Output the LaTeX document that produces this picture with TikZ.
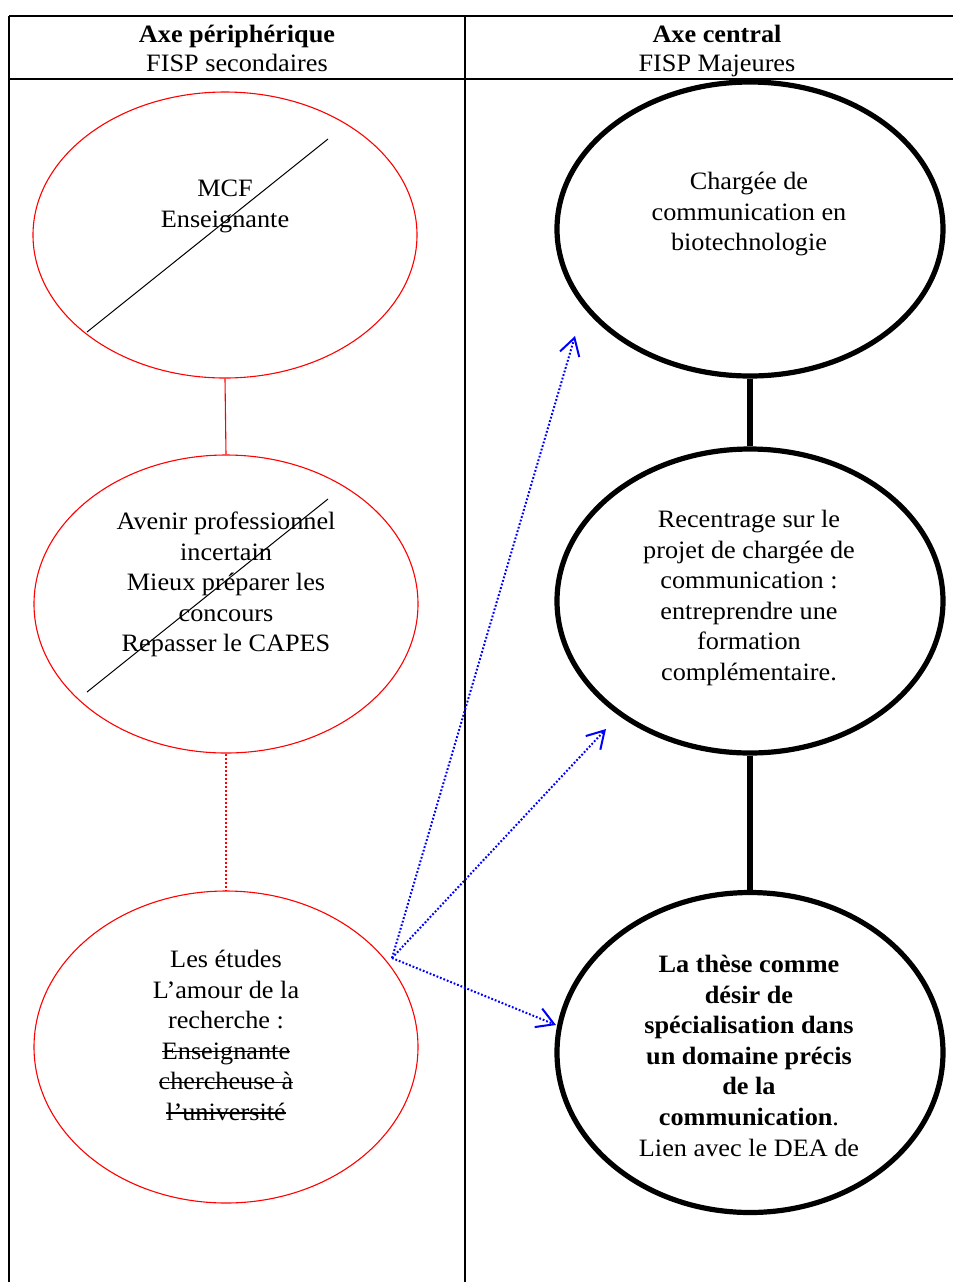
\documentclass[tikz,border=0pt]{standalone}
\usepackage{fontspec}
\setmainfont{Liberation Serif}[FakeStretch=1.05]
\usetikzlibrary{shapes.geometric,arrows.meta}
\newcommand\barre[1]{\setbox0\hbox{#1}\rlap{\rule[0.27em]{\wd0}{0.7pt}}\box0}
\tikzset{
  tbl/.style={line width=1pt, black},
  redell/.style={ellipse, draw=red, line width=0.55pt, inner sep=0pt, minimum width=192pt},
  blkell/.style={ellipse, draw=black, line width=2.6pt, inner sep=0pt, minimum width=193pt},
  redlink/.style={draw=red, line width=0.55pt},
  reddot/.style={draw=red, line width=0.55pt, dash pattern=on 1pt off 1pt},
  blklink/.style={draw=black, line width=2.6pt},
  slash/.style={draw=black, line width=0.5pt},
  bluearrow/.style={draw=blue, line width=1pt, dash pattern=on 0.9pt off 0.95pt,
     -{Straight Barb[length=8.5pt,width=10pt]}},
  txt/.style={align=center, inner sep=0pt, anchor=north, yshift=10.71pt,
     font=\fontsize{12.5}{15.3}\selectfont},
}
\begin{document}
\begin{tikzpicture}[x=0.5pt,y=-0.5pt]
\useasboundingbox (0,0) rectangle (953,1282);
% table
\draw[tbl] (9,16) -- (953,16);
\draw[tbl] (9,79) -- (953,79);
\draw[tbl] (9,16) -- (9,1282);
\draw[tbl] (465,16) -- (465,1282);
\node[txt] (h1) at (237,42) {\strut\textbf{Axe périphérique}\\[-0.85pt]FISP secondaires};
\node[txt] (h2) at (717,42) {\strut\textbf{Axe central}\\[-0.85pt]FISP Majeures};
% left ellipses
\node[redell, minimum height=143pt] (e1) at (225,235) {};
\node[redell, minimum height=149pt] (e2) at (226,604) {};
\node[redell, minimum height=156pt] (e3) at (226,1047) {};
% right ellipses
\node[blkell, minimum height=147pt] (e4) at (750,229) {};
\node[blkell, minimum height=152pt] (e5) at (750,601) {};
\node[blkell, minimum height=160pt] (e6) at (750,1052.5) {};
% links
\draw[redlink] (e1.south) -- (e2.north);
\draw[reddot] (e2.south) -- (e3.north);
\draw[blklink] (e4.south) -- (e5.north);
\draw[blklink] (e5.south) -- (e6.north);
% texts
\node[txt] (t1) at (225,196) {\strut MCF\\Enseignante};
\node[txt] (t2) at (226,529) {\strut Avenir professionnel\\incertain\\Mieux préparer les\\concours\\Repasser le CAPES};
\node[txt] (t3) at (226,967) {\strut Les études\\L’amour de la\\recherche :\\\barre{Enseignante}\\\barre{chercheuse à}\\\barre{l’université}};
\node[txt] (t4) at (749,189) {\strut Chargée de\\communication en\\biotechnologie};
\node[txt] (t5) at (749,527) {\strut Recentrage sur le\\projet de chargée de\\communication :\\entreprendre une\\formation\\complémentaire.};
\node[txt] (t6) at (749,972) {\strut\textbf{La thèse comme}\\\textbf{désir de}\\\textbf{spécialisation dans}\\\textbf{un domaine précis}\\\textbf{de la}\\\textbf{communication}.\\Lien avec le DEA de};
% slashes
\coordinate (s1a) at (87,332); \coordinate (s1b) at (328,139);
\coordinate (s2a) at (87,692); \coordinate (s2b) at (328,499);
\draw[slash] (s1a) -- (s1b);
\draw[slash] (s2a) -- (s2b);
% blue arrows
\coordinate (src) at (392,958);
\coordinate (a1) at (575,336);
\coordinate (a2) at (606,729);
\coordinate (a3) at (556,1025);
\draw[bluearrow] (src) -- (a1);
\draw[bluearrow] (src) -- (a2);
\draw[bluearrow] (src) -- (a3);
\end{tikzpicture}
\end{document}
